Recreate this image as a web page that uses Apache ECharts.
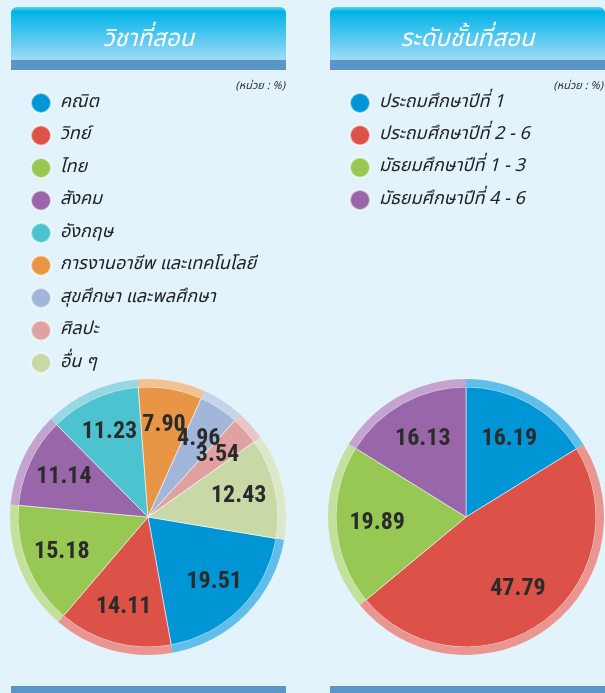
<!DOCTYPE html>
<html>
<head>
<meta charset="utf-8">
<script src="https://cdn.jsdelivr.net/npm/echarts@6/dist/echarts.min.js"></script>
<style>
html, body { margin: 0; padding: 0; background: #e3f3fc; }
#main { width: 605px; height: 693px; }
</style>
</head>
<body>
<div id="main"></div>
<script>
// วิชาที่สอน
var subjectNames = ['คณิต', 'วิทย์', 'ไทย', 'สังคม', 'อังกฤษ', 'การงานอาชีพ และเทคโนโลยี', 'สุขศึกษา และพลศึกษา', 'ศิลปะ', 'อื่น ๆ'];
var subjectValues = [19.51, 14.11, 15.18, 11.14, 11.23, 7.90, 4.96, 3.54, 12.43];
var subjectColors = ['#0095d4', '#dc5249', '#96c853', '#9966a9', '#4ec3d0', '#e89545', '#a1b6d8', '#e0a1a1', '#c8d8a6'];
var subjectRing = ['#5fbfea', '#ea958f', '#c3e09c', '#c4a4cf', '#96d7e1', '#f2c291', '#c8d3e7', '#eac6c6', '#dde7c9'];

// ระดับชั้นที่สอน
var levelNames = ['ประถมศึกษาปีที่ 1', 'ประถมศึกษาปีที่ 2 - 6', 'มัธยมศึกษาปีที่ 1 - 3', 'มัธยมศึกษาปีที่ 4 - 6'];
var levelValues = [16.19, 47.79, 19.89, 16.13];
var levelColors = ['#0095d4', '#dc5249', '#96c853', '#9966a9'];
var levelRing = ['#5fbfea', '#ea958f', '#c3e09c', '#c4a4cf'];

var thaiFont = '"Noto Sans Thai", "Noto Sans", "DejaVu Sans", sans-serif';

var chart = echarts.init(document.getElementById('main'));

function makeData(names, values, colors) {
    return names.map(function (n, i) {
        return { name: n, value: values[i], itemStyle: { color: colors[i] } };
    });
}

function pieGroup(names, values, colors, ring, center, startAngle, labelRadius) {
    return [
        {
            // สีหลัก
            type: 'pie',
            center: center,
            radius: [0, 130],
            startAngle: startAngle,
            clockwise: true,
            animation: false,
            label: { show: false },
            labelLine: { show: false },
            itemStyle: { borderColor: 'rgba(255,255,255,0.55)', borderWidth: 1 },
            emphasis: { scale: false },
            data: makeData(names, values, colors)
        },
        {
            // วงขอบสีอ่อน
            type: 'pie',
            center: center,
            radius: [130, 138],
            startAngle: startAngle,
            clockwise: true,
            animation: false,
            silent: true,
            label: { show: false },
            labelLine: { show: false },
            data: makeData(names, values, ring)
        },
        {
            // ป้ายตัวเลข
            type: 'pie',
            center: center,
            radius: labelRadius,
            startAngle: startAngle,
            clockwise: true,
            animation: false,
            silent: true,
            avoidLabelOverlap: false,
            labelLayout: { hideOverlap: false },
            itemStyle: { color: 'transparent' },
            label: {
                show: true,
                position: 'inside',
                formatter: function (p) { return p.value.toFixed(2); },
                fontFamily: '"Roboto Condensed", "Liberation Sans Narrow", "Liberation Sans", Arial, sans-serif',
                fontWeight: 'bold',
                fontSize: 24,
                color: '#2b2b2b'
            },
            labelLine: { show: false },
            data: names.map(function (n, i) { return { name: n, value: values[i] }; })
        }
    ];
}

function header(x, w, title) {
    return [
        {
            type: 'rect',
            shape: { x: x, y: 7, width: w, height: 56, r: [6, 6, 0, 0] },
            style: {
                fill: new echarts.graphic.LinearGradient(0, 0, 0, 1, [
                    { offset: 0, color: '#5fd0f2' },
                    { offset: 0.08, color: '#00b3e7' },
                    { offset: 1, color: '#a9ddf6' }
                ])
            }
        },
        {
            type: 'rect',
            shape: { x: x, y: 60, width: w, height: 10 },
            style: { fill: '#5b96c8' }
        },
        {
            type: 'text',
            x: x + w / 2,
            y: 41,
            style: {
                text: title,
                fill: '#ffffff',
                font: 'italic 24px ' + thaiFont,
                align: 'center',
                verticalAlign: 'middle'
            }
        }
    ];
}

var unitStyle = {
    text: '(หน่วย : %)',
    fill: '#333333',
    font: 'italic 11px ' + thaiFont,
    align: 'right',
    verticalAlign: 'middle'
};

var legendText = {
    fontSize: 18,
    fontStyle: 'italic',
    fontFamily: thaiFont,
    color: '#222222',
    lineHeight: 20,
    padding: [0, 0, 0, 4]
};

option = {
    backgroundColor: '#e3f3fc',
    legend: [
        {
            data: subjectNames,
            orient: 'vertical',
            left: 25,
            top: 87,
            icon: 'circle',
            itemWidth: 20,
            itemHeight: 20,
            itemGap: 10.5,
            selectedMode: false,
            textStyle: legendText
        },
        {
            data: levelNames,
            orient: 'vertical',
            left: 344,
            top: 87,
            icon: 'circle',
            itemWidth: 20,
            itemHeight: 20,
            itemGap: 10.3,
            selectedMode: false,
            textStyle: legendText
        }
    ],
    graphic: header(11, 275, 'วิชาที่สอน')
        .concat(header(330, 275, 'ระดับชั้นที่สอน'))
        .concat([
            { type: 'text', x: 285, y: 87, style: unitStyle },
            { type: 'text', x: 603, y: 87, style: unitStyle },
            { type: 'rect', shape: { x: 11, y: 686, width: 275, height: 7 }, style: { fill: '#5b96c8' } },
            { type: 'rect', shape: { x: 330, y: 686, width: 275, height: 7 }, style: { fill: '#5b96c8' } }
        ]),
    series: pieGroup(subjectNames, subjectValues, subjectColors, subjectRing, [148, 517], -9.5, [50, 130])
        .concat(pieGroup(levelNames, levelValues, levelColors, levelRing, [466, 517], 90, [42, 130]))
};

option && chart.setOption(option);
window.onresize = function () {
    chart.resize();
};
</script>
</body>
</html>
